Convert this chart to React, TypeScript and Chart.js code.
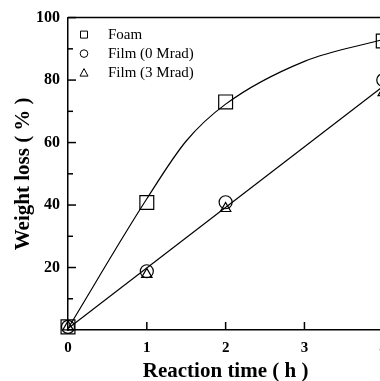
import React, { useEffect, useRef } from "react";
import { Chart, registerables } from "chart.js";

Chart.register(...registerables);

// Measured data (reaction time in hours, weight loss in %)
const hours = [0, 1, 2, 4];
const foam = [1, 40.8, 73, 92.5];
const film0 = [1, 18.8, 40.9, 80];
const film3 = [1, 17.8, 38.9, 76];

// Fitted curves
const foamCurveX = [0, 1, 1.5, 2, 3, 4];
const foamCurveY = [0.5, 42, 60.5, 72.3, 86, 93];
const filmLineX = [0, 4];
const filmLineY = [0.5, 78];

const xTicks = [0, 1, 2, 3, 4];
const yMajor = [20, 40, 60, 80, 100];
const yMinor = [10, 30, 50, 70, 90];

const legendLabels = ["Foam", "Film (0 Mrad)", "Film (3 Mrad)"];
const legendShapes = ["rect", "circle", "triangle"];

const serif = "'Liberation Serif', 'Times New Roman', serif";

const pts = (xs: number[], ys: number[]) => xs.map((x, i) => ({ x, y: ys[i] }));

const framePlugin = {
  id: "frameAndTicks",
  afterDraw(chart: any) {
    const { ctx, chartArea, scales } = chart;
    ctx.save();
    ctx.strokeStyle = "#000";
    ctx.lineWidth = 1.5;
    ctx.beginPath();
    ctx.moveTo(chartArea.left, chartArea.top);
    ctx.lineTo(chartArea.right, chartArea.top);
    ctx.lineTo(chartArea.right, chartArea.bottom);
    ctx.stroke();
    // inward x ticks
    xTicks.forEach((v) => {
      if (v === 0) return;
      const px = scales.x.getPixelForValue(v);
      ctx.beginPath();
      ctx.moveTo(px, chartArea.bottom);
      ctx.lineTo(px, chartArea.bottom - 8);
      ctx.stroke();
    });
    // inward y ticks
    const tick = (v: number, len: number) => {
      const py = scales.y.getPixelForValue(v);
      ctx.beginPath();
      ctx.moveTo(chartArea.left, py);
      ctx.lineTo(chartArea.left + len, py);
      ctx.stroke();
    };
    yMajor.forEach((v) => tick(v, 8));
    yMinor.forEach((v) => tick(v, 5));
    // legend
    const mx = chartArea.left + 16;
    const tx = chartArea.left + 40;
    ctx.lineWidth = 1;
    ctx.font = `15px ${serif}`;
    ctx.fillStyle = "#000";
    ctx.textBaseline = "middle";
    ctx.textAlign = "left";
    legendLabels.forEach((lab, i) => {
      const y = chartArea.top + 17 + i * 19;
      ctx.beginPath();
      const shape = legendShapes[i];
      if (shape === "rect") {
        ctx.rect(mx - 3.5, y - 3.5, 7, 7);
      } else if (shape === "circle") {
        ctx.arc(mx, y, 3.8, 0, Math.PI * 2);
      } else {
        ctx.moveTo(mx, y - 4);
        ctx.lineTo(mx + 4, y + 3.5);
        ctx.lineTo(mx - 4, y + 3.5);
        ctx.closePath();
      }
      ctx.stroke();
      ctx.fillText(lab, tx, y);
    });
    ctx.restore();
  },
};

export default function App() {
  const ref = useRef<HTMLCanvasElement>(null);

  useEffect(() => {
    if (!ref.current) return;
    const markerBase = {
      type: "line" as const,
      showLine: false,
      borderColor: "#000",
      backgroundColor: "transparent",
      pointBorderColor: "#000",
      pointBackgroundColor: "transparent",
      pointBorderWidth: 1.2,
      clip: false as any,
    };
    const chart = new Chart(ref.current, {
      type: "line",
      data: {
        datasets: [
          {
            type: "line",
            data: pts(foamCurveX, foamCurveY),
            borderColor: "#000",
            borderWidth: 1.2,
            pointRadius: 0,
            cubicInterpolationMode: "monotone",
            fill: false,
          },
          {
            type: "line",
            data: pts(filmLineX, filmLineY),
            borderColor: "#000",
            borderWidth: 1.2,
            pointRadius: 0,
            fill: false,
          },
          { ...markerBase, data: pts(hours, foam), pointStyle: "rect", pointRadius: 9.8 },
          { ...markerBase, data: pts(hours, film0), pointStyle: "circle", pointRadius: 6.5 },
          { ...markerBase, data: pts(hours, film3), pointStyle: "triangle", pointRadius: 6 },
        ] as any,
      },
      options: {
        animation: false,
        responsive: false,
        maintainAspectRatio: false,
        layout: { padding: { left: 0, top: 16, right: 0, bottom: 0 } },
        plugins: { legend: { display: false }, tooltip: { enabled: false } },
        scales: {
          x: {
            type: "linear",
            min: 0,
            max: 4,
            afterFit: (s: any) => {
              s.height = 51;
            },
            afterBuildTicks: (s: any) => {
              s.ticks = xTicks.map((v) => ({ value: v }));
            },
            grid: { display: false, drawTicks: false },
            border: { display: true, color: "#000", width: 1.5 },
            ticks: {
              color: "#000",
              padding: 9,
              font: { family: serif, size: 15, weight: "bold" },
            },
            title: {
              display: true,
              text: "Reaction time ( h )",
              color: "#000",
              font: { family: serif, size: 21, weight: "bold", lineHeight: 1 },
              padding: { top: 0, bottom: -1 },
            },
          },
          y: {
            type: "linear",
            min: 0,
            max: 100,
            afterFit: (s: any) => {
              s.width = 68;
            },
            afterBuildTicks: (s: any) => {
              s.ticks = yMajor.map((v) => ({ value: v }));
            },
            grid: { display: false, drawTicks: false },
            border: { display: true, color: "#000", width: 1.5 },
            ticks: {
              color: "#000",
              padding: 8,
              font: { family: serif, size: 16, weight: "bold" },
            },
            title: {
              display: true,
              text: "Weight loss ( % )",
              color: "#000",
              font: { family: serif, size: 21, weight: "bold", lineHeight: 1 },
              padding: { top: 13, bottom: 0 },
            },
          },
        },
      },
      plugins: [framePlugin],
    });
    return () => chart.destroy();
  }, []);

  return (
    <div
      style={{
        position: "absolute",
        left: 0,
        top: 0,
        width: 380,
        height: 381,
        overflow: "hidden",
        background: "#fff",
      }}
    >
      <canvas ref={ref} width={396} height={381} style={{ width: 396, height: 381, display: "block" }} />
    </div>
  );
}
